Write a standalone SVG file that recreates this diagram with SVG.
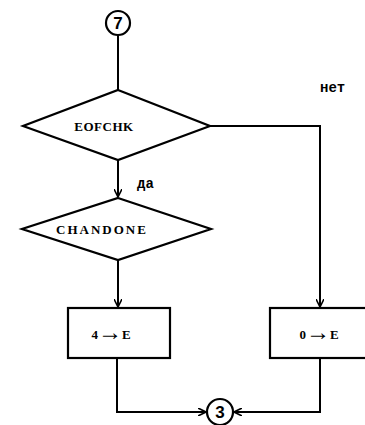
<svg xmlns="http://www.w3.org/2000/svg" width="365" height="425" viewBox="0 0 365 425">
<defs>
<marker id="ah" viewBox="0 0 10 10" refX="10" refY="5" markerWidth="8" markerHeight="8" markerUnits="userSpaceOnUse" orient="auto">
<path d="M0,0 L10,5 L0,10" fill="none" stroke="#000" stroke-width="2"/>
</marker>
<style>
.s{fill:#fff;stroke:#000;stroke-width:2.2}
.c{fill:none;stroke:#000;stroke-width:2}
.t{font-family:"Liberation Serif",serif;font-weight:bold;font-size:13px;fill:#000}
.m{font-family:"Liberation Mono",monospace;font-weight:bold;font-size:14px;fill:#000}
.n{font-family:"Liberation Sans",sans-serif;font-weight:bold;fill:#000}
</style>
</defs>
<rect width="365" height="425" fill="#fff"/>
<g id="connectors">
<path class="c" d="M118,35 V90"/>
<path class="c" d="M118,160 V197" marker-end="url(#ah)"/>
<path class="c" d="M210,126 H320 V307" marker-end="url(#ah)"/>
<path class="c" d="M118,260 V307" marker-end="url(#ah)"/>
<path class="c" d="M117,358 V412 H206" marker-end="url(#ah)"/>
<path class="c" d="M320,358 V412 H234" marker-end="url(#ah)"/>
</g>
<g id="n7">
<circle class="s" cx="118" cy="23" r="12"/>
<text class="n" x="118" y="29" text-anchor="middle" font-size="17">7</text>
</g>
<g id="eofchk">
<polygon class="s" points="118,90 210,126 118,160 23,126"/>
<text class="t" x="104" y="131" text-anchor="middle" letter-spacing="0.5">EOFCHK</text>
</g>
<text class="m" x="320" y="92">нет</text>
<text class="m" x="137" y="188">да</text>
<g id="chandone">
<polygon class="s" points="118,198 211,229 118,260 22,229"/>
<text class="t" x="102" y="234" text-anchor="middle" font-size="14" letter-spacing="2">CHANDONE</text>
</g>
<g id="b4">
<rect class="s" x="68" y="308" width="102" height="50"/>
<text class="t" x="111" y="339" text-anchor="middle" font-size="18">4<tspan font-size="24" dy="1">→</tspan><tspan dy="-1">E</tspan></text>
</g>
<g id="b0">
<rect class="s" x="270" y="308" width="100" height="50"/>
<text class="t" x="319" y="339" text-anchor="middle" font-size="18">0<tspan font-size="24" dy="1">→</tspan><tspan dy="-1">E</tspan></text>
</g>
<g id="n3">
<circle class="s" cx="220" cy="412" r="13"/>
<text class="n" x="220" y="418" text-anchor="middle" font-size="17">3</text>
</g>
</svg>
